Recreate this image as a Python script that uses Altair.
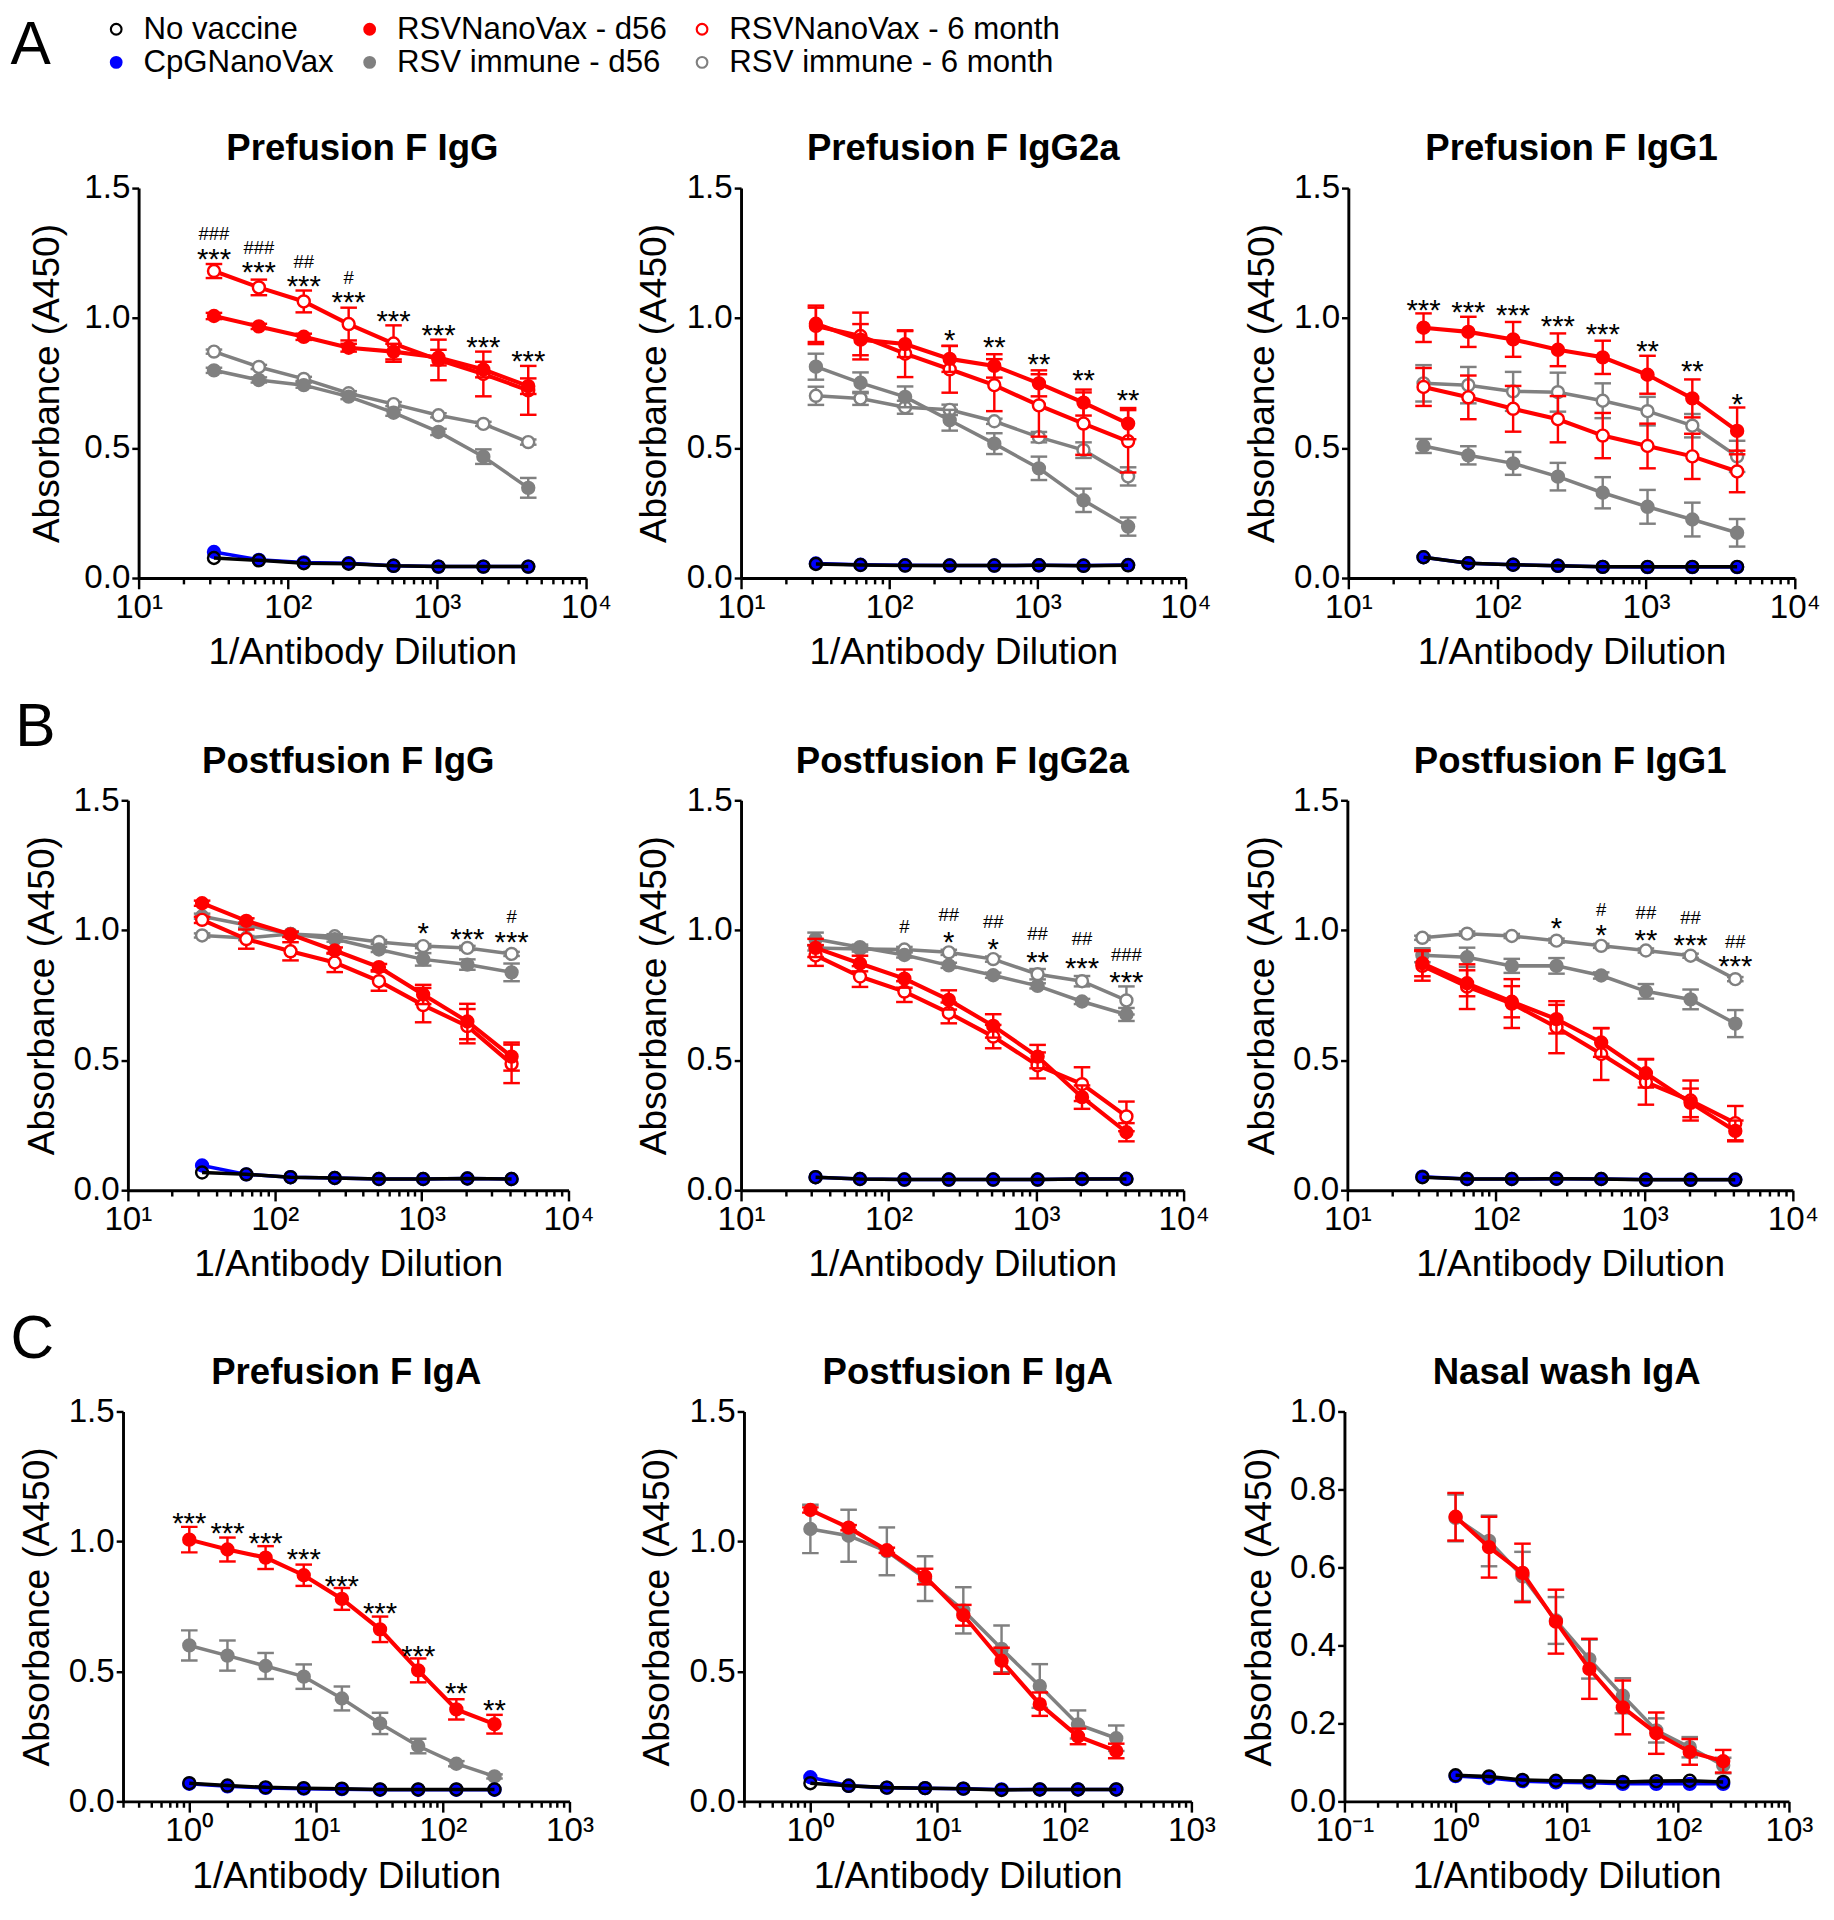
import altair as alt
import pandas as pd

FONT = "Liberation Sans"

# ------------------------------------------------------------------ series (legend order, column-major)
SERIES = ["No vaccine", "CpGNanoVax", "RSVNanoVax - d56", "RSV immune - d56",
          "RSVNanoVax - 6 month", "RSV immune - 6 month"]
FILL_RANGE = ["transparent", "#0000ff", "#ff0000", "#808080", "#ffffff", "#ffffff"]
STROKE_RANGE = ["#000000", "#0000ff", "#ff0000", "#808080", "#ff0000", "#808080"]
DRAW_ORDER = ["RSV immune - 6 month", "RSV immune - d56", "RSVNanoVax - 6 month",
              "RSVNanoVax - d56", "CpGNanoVax", "No vaccine"]

DIL_IGG = [32, 64, 128, 256, 512, 1024, 2048, 4096]
DIL_IGA = [1, 2, 4, 8, 16, 32, 64, 128, 256]

# ------------------------------------------------------------------ A: Prefusion F IgG
preIgG_novax = [0.077, 0.068, 0.057, 0.055, 0.047, 0.044, 0.044, 0.044]
preIgG_cpg = [0.100, 0.070, 0.060, 0.057, 0.047, 0.044, 0.044, 0.044]
preIgG_red56 = [1.008, 0.968, 0.928, 0.886, 0.871, 0.848, 0.802, 0.738]
preIgG_red56_err = [0.012, 0.010, 0.012, 0.015, 0.030, 0.030, 0.030, 0.030]
preIgG_gray56 = [0.799, 0.762, 0.742, 0.698, 0.636, 0.562, 0.467, 0.347]
preIgG_gray56_err = [0.010, 0.010, 0.010, 0.010, 0.012, 0.012, 0.028, 0.038]
preIgG_red6 = [1.181, 1.118, 1.064, 0.977, 0.902, 0.839, 0.785, 0.722]
preIgG_red6_err = [0.027, 0.030, 0.042, 0.063, 0.070, 0.078, 0.086, 0.094]
preIgG_gray6 = [0.871, 0.812, 0.766, 0.711, 0.669, 0.626, 0.593, 0.523]
preIgG_gray6_err = [0.008, 0.008, 0.008, 0.008, 0.008, 0.008, 0.008, 0.010]
preIgG_star_x = [32, 64, 128, 256, 512, 1024, 2048, 4096]
preIgG_star_y = [1.254, 1.201, 1.148, 1.088, 1.015, 0.961, 0.915, 0.862]
preIgG_star_t = ["***", "***", "***", "***", "***", "***", "***", "***"]
preIgG_hash_x = [32, 64, 128, 256]
preIgG_hash_y = [1.326, 1.274, 1.218, 1.156]
preIgG_hash_t = ["###", "###", "##", "#"]

# ------------------------------------------------------------------ A: Prefusion F IgG2a
preG2a_novax = [0.054, 0.050, 0.048, 0.048, 0.048, 0.049, 0.047, 0.049]
preG2a_cpg = [0.056, 0.051, 0.049, 0.048, 0.048, 0.049, 0.048, 0.050]
preG2a_red56 = [0.978, 0.917, 0.900, 0.843, 0.816, 0.749, 0.675, 0.594]
preG2a_red56_err = [0.070, 0.060, 0.050, 0.050, 0.045, 0.050, 0.050, 0.060]
preG2a_gray56 = [0.813, 0.751, 0.697, 0.607, 0.517, 0.422, 0.299, 0.198]
preG2a_gray56_err = [0.050, 0.040, 0.040, 0.040, 0.040, 0.045, 0.045, 0.035]
preG2a_red6 = [0.970, 0.931, 0.863, 0.803, 0.742, 0.664, 0.594, 0.526]
preG2a_red6_err = [0.070, 0.090, 0.090, 0.090, 0.100, 0.120, 0.120, 0.120]
preG2a_gray6 = [0.701, 0.691, 0.657, 0.647, 0.603, 0.542, 0.492, 0.391]
preG2a_gray6_err = [0.035, 0.025, 0.025, 0.020, 0.010, 0.020, 0.030, 0.035]
preG2a_star_x = [256, 512, 1024, 2048, 4096]
preG2a_star_y = [0.940, 0.913, 0.850, 0.786, 0.711]
preG2a_star_t = ["*", "**", "**", "**", "**"]

# ------------------------------------------------------------------ A: Prefusion F IgG1
preG1_novax = [0.080, 0.057, 0.051, 0.047, 0.043, 0.043, 0.043, 0.043]
preG1_cpg = [0.080, 0.057, 0.051, 0.047, 0.043, 0.042, 0.042, 0.042]
preG1_red56 = [0.963, 0.947, 0.918, 0.878, 0.849, 0.782, 0.691, 0.566]
preG1_red56_err = [0.055, 0.058, 0.067, 0.063, 0.064, 0.073, 0.073, 0.090]
preG1_gray56 = [0.508, 0.472, 0.441, 0.390, 0.328, 0.274, 0.225, 0.174]
preG1_gray56_err = [0.027, 0.035, 0.044, 0.053, 0.060, 0.065, 0.065, 0.053]
preG1_red6 = [0.735, 0.695, 0.651, 0.611, 0.548, 0.508, 0.468, 0.410]
preG1_red6_err = [0.073, 0.084, 0.088, 0.089, 0.087, 0.086, 0.087, 0.080]
preG1_gray6 = [0.749, 0.742, 0.718, 0.715, 0.682, 0.642, 0.586, 0.468]
preG1_gray6_err = [0.070, 0.070, 0.075, 0.075, 0.067, 0.055, 0.045, 0.060]
preG1_star_x = [32, 64, 128, 256, 512, 1024, 2048, 4096]
preG1_star_y = [1.056, 1.049, 1.036, 0.996, 0.965, 0.900, 0.820, 0.695]
preG1_star_t = ["***", "***", "***", "***", "***", "**", "**", "*"]

# ------------------------------------------------------------------ B: Postfusion F IgG
postIgG_novax = [0.068, 0.061, 0.050, 0.047, 0.043, 0.043, 0.045, 0.043]
postIgG_cpg = [0.095, 0.061, 0.050, 0.047, 0.043, 0.043, 0.045, 0.043]
postIgG_red56 = [1.104, 1.036, 0.984, 0.922, 0.858, 0.753, 0.649, 0.514]
postIgG_red56_err = [0.010, 0.010, 0.010, 0.012, 0.012, 0.037, 0.068, 0.054]
postIgG_gray56 = [1.054, 1.020, 0.986, 0.966, 0.926, 0.888, 0.868, 0.838]
postIgG_gray56_err = [0.010, 0.010, 0.010, 0.010, 0.010, 0.024, 0.020, 0.034]
postIgG_red6 = [1.040, 0.966, 0.919, 0.876, 0.804, 0.712, 0.631, 0.486]
postIgG_red6_err = [0.012, 0.037, 0.035, 0.037, 0.037, 0.066, 0.066, 0.074]
postIgG_gray6 = [0.980, 0.970, 0.986, 0.977, 0.955, 0.939, 0.932, 0.909]
postIgG_gray6_err = [0.008, 0.008, 0.008, 0.008, 0.008, 0.008, 0.008, 0.008]
postIgG_star_x = [1024, 2048, 4096]
postIgG_star_y = [1.014, 0.993, 0.980]
postIgG_star_t = ["*", "***", "***"]
postIgG_hash_x = [4096]
postIgG_hash_y = [1.056]
postIgG_hash_t = ["#"]

# ------------------------------------------------------------------ B: Postfusion F IgG2a
postG2a_novax = [0.050, 0.043, 0.041, 0.041, 0.041, 0.041, 0.043, 0.043]
postG2a_cpg = [0.050, 0.043, 0.041, 0.041, 0.041, 0.041, 0.043, 0.044]
postG2a_red56 = [0.932, 0.872, 0.814, 0.732, 0.632, 0.514, 0.358, 0.223]
postG2a_red56_err = [0.035, 0.030, 0.035, 0.037, 0.045, 0.045, 0.045, 0.035]
postG2a_gray56 = [0.966, 0.935, 0.905, 0.865, 0.827, 0.786, 0.726, 0.676]
postG2a_gray56_err = [0.025, 0.010, 0.010, 0.010, 0.010, 0.010, 0.010, 0.025]
postG2a_red6 = [0.903, 0.822, 0.764, 0.682, 0.591, 0.480, 0.408, 0.284]
postG2a_red6_err = [0.040, 0.040, 0.040, 0.040, 0.045, 0.050, 0.065, 0.057]
postG2a_gray6 = [0.932, 0.928, 0.926, 0.915, 0.889, 0.831, 0.804, 0.730]
postG2a_gray6_err = [0.010, 0.010, 0.010, 0.010, 0.010, 0.020, 0.020, 0.054]
postG2a_star_x = [256, 512, 1024, 2048, 4096]
postG2a_star_y = [0.982, 0.953, 0.905, 0.882, 0.827]
postG2a_star_t = ["*", "*", "**", "***", "***"]
postG2a_hash_x = [128, 256, 512, 1024, 2048, 4096]
postG2a_hash_y = [1.014, 1.063, 1.036, 0.988, 0.968, 0.907]
postG2a_hash_t = ["#", "##", "##", "##", "##", "###"]

# ------------------------------------------------------------------ B: Postfusion F IgG1
postG1_novax = [0.050, 0.043, 0.043, 0.044, 0.043, 0.040, 0.040, 0.040]
postG1_cpg = [0.052, 0.043, 0.043, 0.044, 0.043, 0.041, 0.041, 0.041]
postG1_red56 = [0.873, 0.796, 0.725, 0.658, 0.568, 0.450, 0.336, 0.228]
postG1_red56_err = [0.050, 0.050, 0.060, 0.055, 0.055, 0.055, 0.055, 0.040]
postG1_gray56 = [0.904, 0.896, 0.863, 0.863, 0.826, 0.765, 0.734, 0.641]
postG1_gray56_err = [0.027, 0.037, 0.027, 0.030, 0.012, 0.028, 0.038, 0.052]
postG1_red6 = [0.863, 0.783, 0.718, 0.627, 0.524, 0.416, 0.345, 0.258]
postG1_red6_err = [0.057, 0.086, 0.094, 0.100, 0.100, 0.087, 0.077, 0.066]
postG1_gray6 = [0.971, 0.987, 0.978, 0.960, 0.940, 0.922, 0.902, 0.812]
postG1_gray6_err = [0.008, 0.008, 0.008, 0.008, 0.008, 0.008, 0.008, 0.008]
postG1_star_x = [256, 512, 1024, 2048, 4096]
postG1_star_y = [1.034, 1.007, 0.987, 0.967, 0.886]
postG1_star_t = ["*", "*", "**", "***", "***"]
postG1_hash_x = [512, 1024, 2048, 4096]
postG1_hash_y = [1.083, 1.070, 1.049, 0.959]
postG1_hash_t = ["#", "##", "##", "##"]

# ------------------------------------------------------------------ C: Prefusion F IgA
preIgA_novax = [0.070, 0.061, 0.054, 0.051, 0.049, 0.046, 0.046, 0.046, 0.046]
preIgA_cpg = [0.068, 0.058, 0.052, 0.049, 0.047, 0.045, 0.045, 0.045, 0.045]
preIgA_red56 = [1.007, 0.969, 0.938, 0.870, 0.779, 0.662, 0.504, 0.354, 0.297]
preIgA_red56_err = [0.049, 0.046, 0.044, 0.041, 0.042, 0.049, 0.046, 0.039, 0.036]
preIgA_gray56 = [0.600, 0.561, 0.521, 0.480, 0.396, 0.300, 0.213, 0.145, 0.096]
preIgA_gray56_err = [0.058, 0.058, 0.050, 0.047, 0.046, 0.041, 0.028, 0.010, 0.008]
preIgA_star_x = [1, 2, 4, 8, 16, 32, 64, 128, 256]
preIgA_star_y = [1.096, 1.056, 1.021, 0.958, 0.854, 0.751, 0.586, 0.441, 0.377]
preIgA_star_t = ["***", "***", "***", "***", "***", "***", "***", "**", "**"]

# ------------------------------------------------------------------ C: Postfusion F IgA
postIgA_novax = [0.070, 0.060, 0.053, 0.051, 0.049, 0.044, 0.046, 0.046, 0.046]
postIgA_cpg = [0.093, 0.060, 0.053, 0.051, 0.049, 0.046, 0.046, 0.046, 0.046]
postIgA_red56 = [1.121, 1.053, 0.966, 0.865, 0.716, 0.541, 0.374, 0.250, 0.194]
postIgA_red56_err = [0.010, 0.010, 0.010, 0.030, 0.040, 0.050, 0.045, 0.030, 0.028]
postIgA_gray56 = [1.048, 1.022, 0.962, 0.857, 0.735, 0.587, 0.444, 0.296, 0.243]
postIgA_gray56_err = [0.093, 0.100, 0.092, 0.086, 0.089, 0.090, 0.084, 0.054, 0.049]

# ------------------------------------------------------------------ C: Nasal wash IgA
nasal_novax = [0.067, 0.064, 0.055, 0.053, 0.052, 0.050, 0.052, 0.053, 0.050]
nasal_cpg = [0.065, 0.060, 0.052, 0.049, 0.048, 0.045, 0.045, 0.045, 0.045]
nasal_red56 = [0.730, 0.652, 0.586, 0.461, 0.340, 0.241, 0.175, 0.127, 0.103]
nasal_red56_err = [0.061, 0.078, 0.075, 0.082, 0.077, 0.069, 0.053, 0.033, 0.029]
nasal_gray56 = [0.727, 0.668, 0.577, 0.464, 0.365, 0.271, 0.182, 0.139, 0.092]
nasal_gray56_err = [0.060, 0.065, 0.063, 0.060, 0.050, 0.045, 0.031, 0.026, 0.020]

Y_TICKS_15 = [0.0, 0.5, 1.0, 1.5]
Y_TICKS_10 = [0.0, 0.2, 0.4, 0.6, 0.8, 1.0]


def sdict(novax, cpg, red56, red56e, gray56, gray56e, red6=None, red6e=None, gray6=None, gray6e=None):
    d = {"No vaccine": (novax, None), "CpGNanoVax": (cpg, None),
         "RSVNanoVax - d56": (red56, red56e), "RSV immune - d56": (gray56, gray56e)}
    if red6 is not None:
        d["RSVNanoVax - 6 month"] = (red6, red6e)
        d["RSV immune - 6 month"] = (gray6, gray6e)
    return d


PANELS = [
    dict(title="Prefusion F IgG", x=DIL_IGG, xdom=[10, 10000], ydom=[0, 1.5], yt=Y_TICKS_15, w=459, ypad=18,
         s=sdict(preIgG_novax, preIgG_cpg, preIgG_red56, preIgG_red56_err, preIgG_gray56, preIgG_gray56_err,
                 preIgG_red6, preIgG_red6_err, preIgG_gray6, preIgG_gray6_err),
         stars=(preIgG_star_x, preIgG_star_y, preIgG_star_t), hashes=(preIgG_hash_x, preIgG_hash_y, preIgG_hash_t)),
    dict(title="Prefusion F IgG2a", x=DIL_IGG, xdom=[10, 10000], ydom=[0, 1.5], yt=Y_TICKS_15, w=456, ypad=13,
         s=sdict(preG2a_novax, preG2a_cpg, preG2a_red56, preG2a_red56_err, preG2a_gray56, preG2a_gray56_err,
                 preG2a_red6, preG2a_red6_err, preG2a_gray6, preG2a_gray6_err),
         stars=(preG2a_star_x, preG2a_star_y, preG2a_star_t), hashes=None),
    dict(title="Prefusion F IgG1", x=DIL_IGG, xdom=[10, 10000], ydom=[0, 1.5], yt=Y_TICKS_15, w=458, ypad=12,
         s=sdict(preG1_novax, preG1_cpg, preG1_red56, preG1_red56_err, preG1_gray56, preG1_gray56_err,
                 preG1_red6, preG1_red6_err, preG1_gray6, preG1_gray6_err),
         stars=(preG1_star_x, preG1_star_y, preG1_star_t), hashes=None),
    dict(title="Postfusion F IgG", x=DIL_IGG, xdom=[10, 10000], ydom=[0, 1.5], yt=Y_TICKS_15, w=452, ypad=12,
         s=sdict(postIgG_novax, postIgG_cpg, postIgG_red56, postIgG_red56_err, postIgG_gray56, postIgG_gray56_err,
                 postIgG_red6, postIgG_red6_err, postIgG_gray6, postIgG_gray6_err),
         stars=(postIgG_star_x, postIgG_star_y, postIgG_star_t), hashes=(postIgG_hash_x, postIgG_hash_y, postIgG_hash_t)),
    dict(title="Postfusion F IgG2a", x=DIL_IGG, xdom=[10, 10000], ydom=[0, 1.5], yt=Y_TICKS_15, w=454, ypad=13,
         s=sdict(postG2a_novax, postG2a_cpg, postG2a_red56, postG2a_red56_err, postG2a_gray56, postG2a_gray56_err,
                 postG2a_red6, postG2a_red6_err, postG2a_gray6, postG2a_gray6_err),
         stars=(postG2a_star_x, postG2a_star_y, postG2a_star_t), hashes=(postG2a_hash_x, postG2a_hash_y, postG2a_hash_t)),
    dict(title="Postfusion F IgG1", x=DIL_IGG, xdom=[10, 10000], ydom=[0, 1.5], yt=Y_TICKS_15, w=457, ypad=12,
         s=sdict(postG1_novax, postG1_cpg, postG1_red56, postG1_red56_err, postG1_gray56, postG1_gray56_err,
                 postG1_red6, postG1_red6_err, postG1_gray6, postG1_gray6_err),
         stars=(postG1_star_x, postG1_star_y, postG1_star_t), hashes=(postG1_hash_x, postG1_hash_y, postG1_hash_t)),
    dict(title="Prefusion F IgA", x=DIL_IGA, xdom=[0.3, 1000], ydom=[0, 1.5], yt=Y_TICKS_15, w=458, ypad=12,
         s=sdict(preIgA_novax, preIgA_cpg, preIgA_red56, preIgA_red56_err, preIgA_gray56, preIgA_gray56_err),
         stars=(preIgA_star_x, preIgA_star_y, preIgA_star_t), hashes=None),
    dict(title="Postfusion F IgA", x=DIL_IGA, xdom=[0.3, 1000], ydom=[0, 1.5], yt=Y_TICKS_15, w=459, ypad=13,
         s=sdict(postIgA_novax, postIgA_cpg, postIgA_red56, postIgA_red56_err, postIgA_gray56, postIgA_gray56_err),
         stars=None, hashes=None),
    dict(title="Nasal wash IgA", x=DIL_IGA, xdom=[0.1, 1000], ydom=[0, 1.0], yt=Y_TICKS_10, w=456, ypad=12,
         s=sdict(nasal_novax, nasal_cpg, nasal_red56, nasal_red56_err, nasal_gray56, nasal_gray56_err),
         stars=None, hashes=None),
]

SUP = {-1: "\u207b\u00b9", 0: "\u2070", 1: "\u00b9", 2: "\u00b2", 3: "\u00b3", 4: "\u2074"}
PH = 400

LEGEND = alt.Legend(title=None, orient="none", legendX=92, legendY=-179, columns=3,
                    labelFont=FONT, labelFontSize=32, labelColor="black", symbolType="circle",
                    symbolSize=120, symbolStrokeWidth=2.2, labelOffset=12, columnPadding=20,
                    rowPadding=2, padding=0, labelLimit=500)
FILL_SCALE = alt.Scale(domain=SERIES, range=FILL_RANGE)
STROKE_SCALE = alt.Scale(domain=SERIES, range=STROKE_RANGE)


def log_ticks(lo, hi):
    import math
    majors, allv = [], []
    for d in range(int(math.floor(math.log10(lo))), int(math.ceil(math.log10(hi))) + 1):
        for m in range(1, 10):
            v = float(f"{m}e{d}")
            if lo - 1e-12 <= v <= hi + 1e-12:
                allv.append(v)
                if m == 1:
                    majors.append((v, d))
    return allv, majors


def make_panel(p):
    allv, majors = log_ticks(*p["xdom"])
    label_expr = " : ".join(f"datum.value == {v} ? '10{SUP[d]}'" for v, d in majors) + " : ''"
    major_list = ",".join(str(v) for v, d in majors)
    xaxis = alt.Axis(values=allv, labelExpr=label_expr, labelFlush=False, labelOverlap=False,
                     tickSize={"condition": {"test": f"indexof([{major_list}], datum.value) >= 0", "value": 11},
                               "value": 6},
                     labelPadding=2, titlePadding=11, title="1/Antibody Dilution")
    yaxis = alt.Axis(values=p["yt"], format=".1f", tickSize=7, labelPadding=2, titlePadding=p["ypad"],
                     title="Absorbance (A450)")
    xscale = alt.Scale(type="log", domain=p["xdom"], nice=False)
    yscale = alt.Scale(domain=p["ydom"], nice=False)

    def X():
        return alt.X("x:Q", scale=xscale, axis=xaxis)

    def Yf(f):
        return alt.Y(f + ":Q", scale=yscale, axis=yaxis)

    layers = []
    for name in DRAW_ORDER:
        if name not in p["s"]:
            continue
        vals, errs = p["s"][name]
        col = STROKE_RANGE[SERIES.index(name)]
        df = pd.DataFrame({"x": p["x"], "y": vals, "series": name})
        if errs is not None:
            df["lo"] = [v - e for v, e in zip(vals, errs)]
            df["hi"] = [v + e for v, e in zip(vals, errs)]
            layers.append(alt.Chart(df).mark_rule(color=col, strokeWidth=2.5).encode(
                x=X(), y=Yf("lo"), y2="hi"))
            caps = pd.concat([pd.DataFrame({"x": df["x"], "cap": df["lo"]}),
                              pd.DataFrame({"x": df["x"], "cap": df["hi"]})])
            layers.append(alt.Chart(caps).mark_tick(orient="horizontal", color=col, size=17,
                                                    thickness=2.5, opacity=1).encode(x=X(), y=Yf("cap")))
        lw = 4.2 if "NanoVax -" in name else 3.6
        layers.append(alt.Chart(df).mark_line(color=col, strokeWidth=lw).encode(x=X(), y=Yf("y")))
        layers.append(alt.Chart(df).mark_circle(size=150, strokeWidth=2.5, opacity=1).encode(
            x=X(), y=Yf("y"),
            fill=alt.Fill("series:N", scale=FILL_SCALE, legend=LEGEND),
            stroke=alt.Stroke("series:N", scale=STROKE_SCALE, legend=LEGEND)))
    if p["stars"] is not None:
        sx, sy, st = p["stars"]
        layers.append(alt.Chart(pd.DataFrame({"x": sx, "y": sy, "t": st})).mark_text(
            fontSize=30, font=FONT, baseline="alphabetic", dy=17, color="black").encode(
            x=X(), y=Yf("y"), text="t:N"))
    if p["hashes"] is not None:
        hx, hy, ht = p["hashes"]
        layers.append(alt.Chart(pd.DataFrame({"x": hx, "y": hy, "t": ht})).mark_text(
            fontSize=19, font=FONT, baseline="alphabetic", dy=7, color="black").encode(
            x=X(), y=Yf("y"), text="t:N"))
    return alt.layer(*layers).properties(
        width=p["w"], height=PH,
        title=alt.TitleParams(p["title"], font=FONT, fontSize=37.5, fontWeight="bold", color="black",
                              anchor="middle", frame="group", baseline="alphabetic", offset=-26))


def spacer():
    # invisible column that pins the left edge of every row
    return alt.Chart(pd.DataFrame({"v": [0]})).mark_point(opacity=0, size=1).encode(
        x=alt.value(0), y=alt.value(0)).properties(width=1, height=PH)


def row(letter, panels, s0, s1, s2, offset, dx):
    a, b, c = [make_panel(p) for p in panels]
    inner = alt.hconcat(alt.hconcat(a, b, spacing=s1), c, spacing=s2)
    return alt.hconcat(spacer(), inner, spacing=s0).properties(
        title=alt.TitleParams(letter, font=FONT, fontSize=62, fontWeight="normal", color="black",
                              anchor="start", baseline="alphabetic", offset=offset, dx=dx))


chart = alt.vconcat(
    row("A", PANELS[0:3], 17, 24, 33, 7, 0),
    row("B", PANELS[3:6], 12, 42, 34, -65, 5),
    row("C", PANELS[6:9], 7, 46, 25, -66, 0),
    spacing=26,
).properties(padding={"left": 2, "top": -19, "right": 5, "bottom": 5}).configure(
    font=FONT
).configure_view(stroke=None).configure_axis(
    grid=False, domainColor="black", domainWidth=3, tickColor="black", tickWidth=2.5,
    labelColor="black", titleColor="black", labelFont=FONT, titleFont=FONT,
    labelFontSize=34, titleFontSize=38, titleFontWeight="normal"
)

chart.save("out.html", embed_options={"renderer": "svg", "actions": False})
